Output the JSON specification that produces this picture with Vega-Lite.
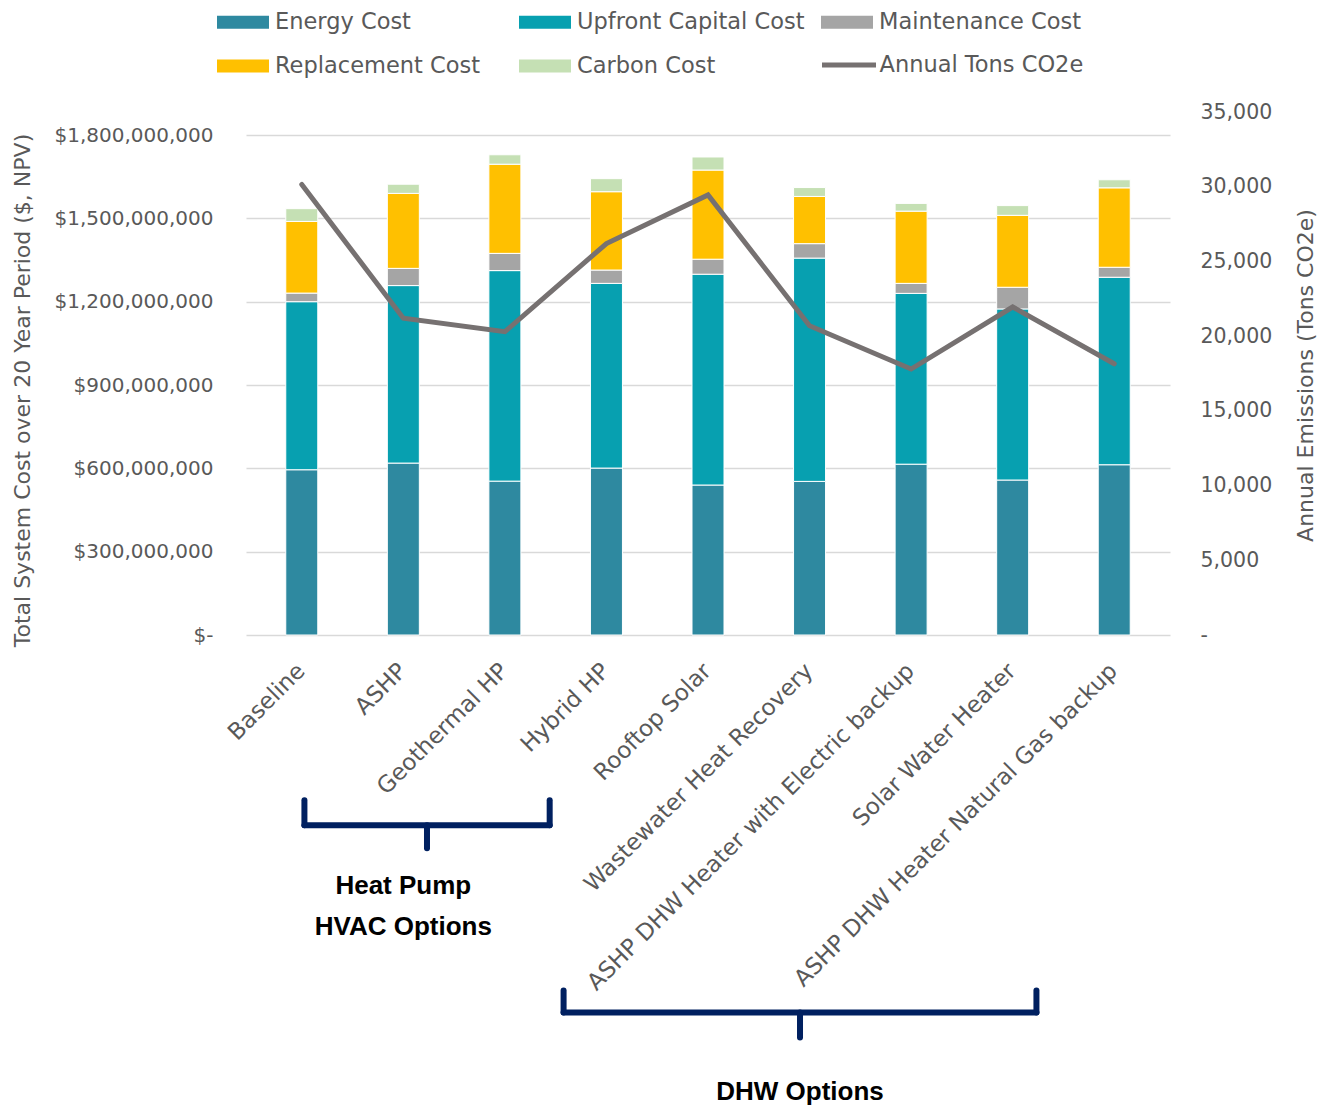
{
  "$schema": "https://vega.github.io/schema/vega-lite/v6.json",
  "width": 924,
  "height": 523,
  "autosize": {"type": "none"},
  "padding": {"left": 246, "top": 112, "right": 162, "bottom": 470},
  "background": "white",
  "config": {"view": {"stroke": null}, "font": "DejaVu Sans"},
  "datasets": {
    "costs": [
      {"option": "Baseline", "idx": 0, "component": "Energy Cost", "rank": 1, "cost": 595000000},
      {"option": "Baseline", "idx": 0, "component": "Upfront Capital Cost", "rank": 2, "cost": 605000000},
      {"option": "Baseline", "idx": 0, "component": "Maintenance Cost", "rank": 3, "cost": 31000000},
      {"option": "Baseline", "idx": 0, "component": "Replacement Cost", "rank": 4, "cost": 258000000},
      {"option": "Baseline", "idx": 0, "component": "Carbon Cost", "rank": 5, "cost": 46000000},
      {"option": "ASHP", "idx": 1, "component": "Energy Cost", "rank": 1, "cost": 619000000},
      {"option": "ASHP", "idx": 1, "component": "Upfront Capital Cost", "rank": 2, "cost": 639000000},
      {"option": "ASHP", "idx": 1, "component": "Maintenance Cost", "rank": 3, "cost": 62000000},
      {"option": "ASHP", "idx": 1, "component": "Replacement Cost", "rank": 4, "cost": 270000000},
      {"option": "ASHP", "idx": 1, "component": "Carbon Cost", "rank": 5, "cost": 33000000},
      {"option": "Geothermal HP", "idx": 2, "component": "Energy Cost", "rank": 1, "cost": 554000000},
      {"option": "Geothermal HP", "idx": 2, "component": "Upfront Capital Cost", "rank": 2, "cost": 758000000},
      {"option": "Geothermal HP", "idx": 2, "component": "Maintenance Cost", "rank": 3, "cost": 62000000},
      {"option": "Geothermal HP", "idx": 2, "component": "Replacement Cost", "rank": 4, "cost": 321000000},
      {"option": "Geothermal HP", "idx": 2, "component": "Carbon Cost", "rank": 5, "cost": 34000000},
      {"option": "Hybrid HP", "idx": 3, "component": "Energy Cost", "rank": 1, "cost": 601000000},
      {"option": "Hybrid HP", "idx": 3, "component": "Upfront Capital Cost", "rank": 2, "cost": 665000000},
      {"option": "Hybrid HP", "idx": 3, "component": "Maintenance Cost", "rank": 3, "cost": 48000000},
      {"option": "Hybrid HP", "idx": 3, "component": "Replacement Cost", "rank": 4, "cost": 282000000},
      {"option": "Hybrid HP", "idx": 3, "component": "Carbon Cost", "rank": 5, "cost": 47000000},
      {"option": "Rooftop Solar", "idx": 4, "component": "Energy Cost", "rank": 1, "cost": 540000000},
      {"option": "Rooftop Solar", "idx": 4, "component": "Upfront Capital Cost", "rank": 2, "cost": 759000000},
      {"option": "Rooftop Solar", "idx": 4, "component": "Maintenance Cost", "rank": 3, "cost": 54000000},
      {"option": "Rooftop Solar", "idx": 4, "component": "Replacement Cost", "rank": 4, "cost": 321000000},
      {"option": "Rooftop Solar", "idx": 4, "component": "Carbon Cost", "rank": 5, "cost": 47000000},
      {"option": "Wastewater Heat Recovery", "idx": 5, "component": "Energy Cost", "rank": 1, "cost": 553000000},
      {"option": "Wastewater Heat Recovery", "idx": 5, "component": "Upfront Capital Cost", "rank": 2, "cost": 804000000},
      {"option": "Wastewater Heat Recovery", "idx": 5, "component": "Maintenance Cost", "rank": 3, "cost": 52000000},
      {"option": "Wastewater Heat Recovery", "idx": 5, "component": "Replacement Cost", "rank": 4, "cost": 170000000},
      {"option": "Wastewater Heat Recovery", "idx": 5, "component": "Carbon Cost", "rank": 5, "cost": 32000000},
      {"option": "ASHP DHW Heater with Electric backup", "idx": 6, "component": "Energy Cost", "rank": 1, "cost": 615000000},
      {"option": "ASHP DHW Heater with Electric backup", "idx": 6, "component": "Upfront Capital Cost", "rank": 2, "cost": 615000000},
      {"option": "ASHP DHW Heater with Electric backup", "idx": 6, "component": "Maintenance Cost", "rank": 3, "cost": 36000000},
      {"option": "ASHP DHW Heater with Electric backup", "idx": 6, "component": "Replacement Cost", "rank": 4, "cost": 260000000},
      {"option": "ASHP DHW Heater with Electric backup", "idx": 6, "component": "Carbon Cost", "rank": 5, "cost": 28000000},
      {"option": "Solar Water Heater", "idx": 7, "component": "Energy Cost", "rank": 1, "cost": 558000000},
      {"option": "Solar Water Heater", "idx": 7, "component": "Upfront Capital Cost", "rank": 2, "cost": 616000000},
      {"option": "Solar Water Heater", "idx": 7, "component": "Maintenance Cost", "rank": 3, "cost": 78000000},
      {"option": "Solar Water Heater", "idx": 7, "component": "Replacement Cost", "rank": 4, "cost": 259000000},
      {"option": "Solar Water Heater", "idx": 7, "component": "Carbon Cost", "rank": 5, "cost": 35000000},
      {"option": "ASHP DHW Heater Natural Gas backup", "idx": 8, "component": "Energy Cost", "rank": 1, "cost": 613000000},
      {"option": "ASHP DHW Heater Natural Gas backup", "idx": 8, "component": "Upfront Capital Cost", "rank": 2, "cost": 675000000},
      {"option": "ASHP DHW Heater Natural Gas backup", "idx": 8, "component": "Maintenance Cost", "rank": 3, "cost": 36000000},
      {"option": "ASHP DHW Heater Natural Gas backup", "idx": 8, "component": "Replacement Cost", "rank": 4, "cost": 286000000},
      {"option": "ASHP DHW Heater Natural Gas backup", "idx": 8, "component": "Carbon Cost", "rank": 5, "cost": 29000000}
    ],
    "emissions": [
      {"option": "Baseline", "idx": 0, "tons": 30150},
      {"option": "ASHP", "idx": 1, "tons": 21200},
      {"option": "Geothermal HP", "idx": 2, "tons": 20300},
      {"option": "Hybrid HP", "idx": 3, "tons": 26200},
      {"option": "Rooftop Solar", "idx": 4, "tons": 29450},
      {"option": "Wastewater Heat Recovery", "idx": 5, "tons": 20700},
      {"option": "ASHP DHW Heater with Electric backup", "idx": 6, "tons": 17800},
      {"option": "Solar Water Heater", "idx": 7, "tons": 21950},
      {"option": "ASHP DHW Heater Natural Gas backup", "idx": 8, "tons": 18150}
    ],
    "brackets": [
      {"group": "Heat Pump HVAC Options", "x1": 0.026, "x2": 0.026, "y1": -594800000, "y2": -684900000},
      {"group": "Heat Pump HVAC Options", "x1": 2.441, "x2": 2.441, "y1": -594800000, "y2": -684900000},
      {"group": "Heat Pump HVAC Options", "x1": 0.026, "x2": 2.441, "y1": -684900000, "y2": -684900000},
      {"group": "Heat Pump HVAC Options", "x1": 1.233, "x2": 1.233, "y1": -684900000, "y2": -767800000},
      {"group": "DHW Options", "x1": 2.578, "x2": 2.578, "y1": -1279700000, "y2": -1359000000},
      {"group": "DHW Options", "x1": 7.234, "x2": 7.234, "y1": -1279700000, "y2": -1359000000},
      {"group": "DHW Options", "x1": 2.578, "x2": 7.234, "y1": -1359000000, "y2": -1359000000},
      {"group": "DHW Options", "x1": 4.906, "x2": 4.906, "y1": -1359000000, "y2": -1449200000}
    ],
    "notes": [
      {"label": "Heat Pump", "x": 1.0, "y": -904800000},
      {"label": "HVAC Options", "x": 1.0, "y": -1052600000},
      {"label": "DHW Options", "x": 4.906, "y": -1643800000}
    ]
  },
  "layer": [
    {
      "layer": [
        {
          "data": {"name": "costs"},
          "mark": {"type": "bar", "width": 32, "stroke": "white", "strokeWidth": 1, "clip": false},
          "encoding": {
            "x": {
              "field": "idx", "type": "quantitative",
              "scale": {"domain": [-0.5, 8.5], "nice": false, "zero": false},
              "axis": {
                "title": null, "values": [0, 1, 2, 3, 4, 5, 6, 7, 8],
                "labelExpr": "['Baseline','ASHP','Geothermal HP','Hybrid HP','Rooftop Solar','Wastewater Heat Recovery','ASHP DHW Heater with Electric backup','Solar Water Heater','ASHP DHW Heater Natural Gas backup'][datum.value]",
                "labelAngle": -45, "labelAlign": "right", "labelBaseline": "middle",
                "labelPadding": 32, "labelOffset": -1, "ticks": false, "domain": false, "grid": false,
                "labelFont": "DejaVu Sans", "labelFontSize": 23, "labelColor": "#595959",
                "labelLimit": 700, "labelOverlap": false, "labelFlush": false, "labelBound": false
              }
            },
            "y": {
              "field": "cost", "type": "quantitative", "stack": "zero",
              "scale": {"domain": [0, 1883000000], "nice": false, "zero": true},
              "axis": {
                "title": "Total System Cost over 20 Year Period ($, NPV)",
                "values": [0, 300000000, 600000000, 900000000, 1200000000, 1500000000, 1800000000],
                "labelExpr": "datum.value == 0 ? '$-\u00a0\u00a0' : format(datum.value, '$,.0f')",
                "labelFont": "DejaVu Sans", "labelFontSize": 20, "labelColor": "#595959",
                "labelPadding": 33, "ticks": false, "domain": false,
                "grid": true, "gridColor": "#D9D9D9", "gridWidth": 1.5,
                "titleFont": "DejaVu Sans", "titleFontSize": 22, "titleFontWeight": "normal", "titleColor": "#595959",
                "titleX": -224, "titleY": 278, "titleBaseline": "middle", "titleAngle": -90
              }
            },
            "color": {
              "field": "component", "type": "nominal",
              "scale": {
                "domain": ["Energy Cost", "Upfront Capital Cost", "Maintenance Cost", "Replacement Cost", "Carbon Cost"],
                "range": ["#2E89A0", "#07A0B0", "#A5A5A5", "#FFC000", "#C5E0B4"]
              },
              "legend": {
                "orient": "none", "legendX": -18, "legendY": -105, "direction": "horizontal",
                "columns": 3, "gridAlign": "all", "columnPadding": 16, "rowPadding": 17,
                "title": null, "padding": 0,
                "symbolSize": 900, "symbolType": "M-1.733,-0.433H1.733V0.433H-1.733Z", "symbolStrokeWidth": 0,
                "labelFont": "DejaVu Sans", "labelFontSize": 22.5, "labelColor": "#595959", "labelOffset": 17, "labelLimit": 500
              }
            },
            "order": {"field": "rank", "type": "quantitative", "sort": "ascending"}
          }
        },
        {
          "data": {"name": "brackets"},
          "mark": {"type": "rule", "color": "#002060", "strokeWidth": 6, "strokeCap": "round", "clip": false},
          "encoding": {
            "x": {"field": "x1", "type": "quantitative", "scale": {"domain": [-0.5, 8.5], "nice": false, "zero": false}},
            "x2": {"field": "x2"},
            "y": {"field": "y1", "type": "quantitative", "scale": {"domain": [0, 1883000000], "nice": false, "zero": true}},
            "y2": {"field": "y2"}
          }
        },
        {
          "data": {"name": "notes"},
          "mark": {"type": "text", "font": "Liberation Sans", "fontWeight": "bold", "fontSize": 26, "color": "#000000", "align": "center", "baseline": "middle", "clip": false},
          "encoding": {
            "x": {"field": "x", "type": "quantitative", "scale": {"domain": [-0.5, 8.5], "nice": false, "zero": false}},
            "y": {"field": "y", "type": "quantitative", "scale": {"domain": [0, 1883000000], "nice": false, "zero": true}},
            "text": {"field": "label", "type": "nominal"}
          }
        }
      ]
    },
    {
      "data": {"name": "emissions"},
      "mark": {"type": "line", "strokeWidth": 5, "strokeCap": "round", "clip": false},
      "encoding": {
        "x": {"field": "idx", "type": "quantitative", "scale": {"domain": [-0.5, 8.5], "nice": false, "zero": false}},
        "y": {
          "field": "tons", "type": "quantitative",
          "scale": {"domain": [0, 35000], "nice": false, "zero": true},
          "axis": {
            "orient": "right",
            "title": "Annual Emissions (Tons CO2e)",
            "values": [0, 5000, 10000, 15000, 20000, 25000, 30000, 35000],
            "labelExpr": "datum.value == 0 ? '-' : format(datum.value, ',')",
            "labelFont": "DejaVu Sans", "labelFontSize": 20.5, "labelColor": "#595959", "labelAlign": "left",
            "labelPadding": 30, "ticks": false, "domain": false, "grid": false,
            "titleFont": "DejaVu Sans", "titleFontSize": 22, "titleFontWeight": "normal", "titleColor": "#595959",
            "titleX": 135, "titleY": 263, "titleBaseline": "middle", "titleAngle": 270
          }
        },
        "stroke": {
          "datum": "Annual Tons CO2e", "type": "nominal",
          "scale": {"domain": ["Annual Tons CO2e"], "range": ["#767171"]},
          "legend": {
            "orient": "none", "legendX": 573.5, "legendY": -76.5,
            "title": null, "padding": 0,
            "symbolType": "stroke", "symbolSize": 2916, "symbolStrokeWidth": 5,
            "labelFont": "DejaVu Sans", "labelFontSize": 22.5, "labelColor": "#595959", "labelOffset": 1, "labelLimit": 500
          }
        }
      }
    }
  ],
  "resolve": {"scale": {"y": "independent"}}
}
